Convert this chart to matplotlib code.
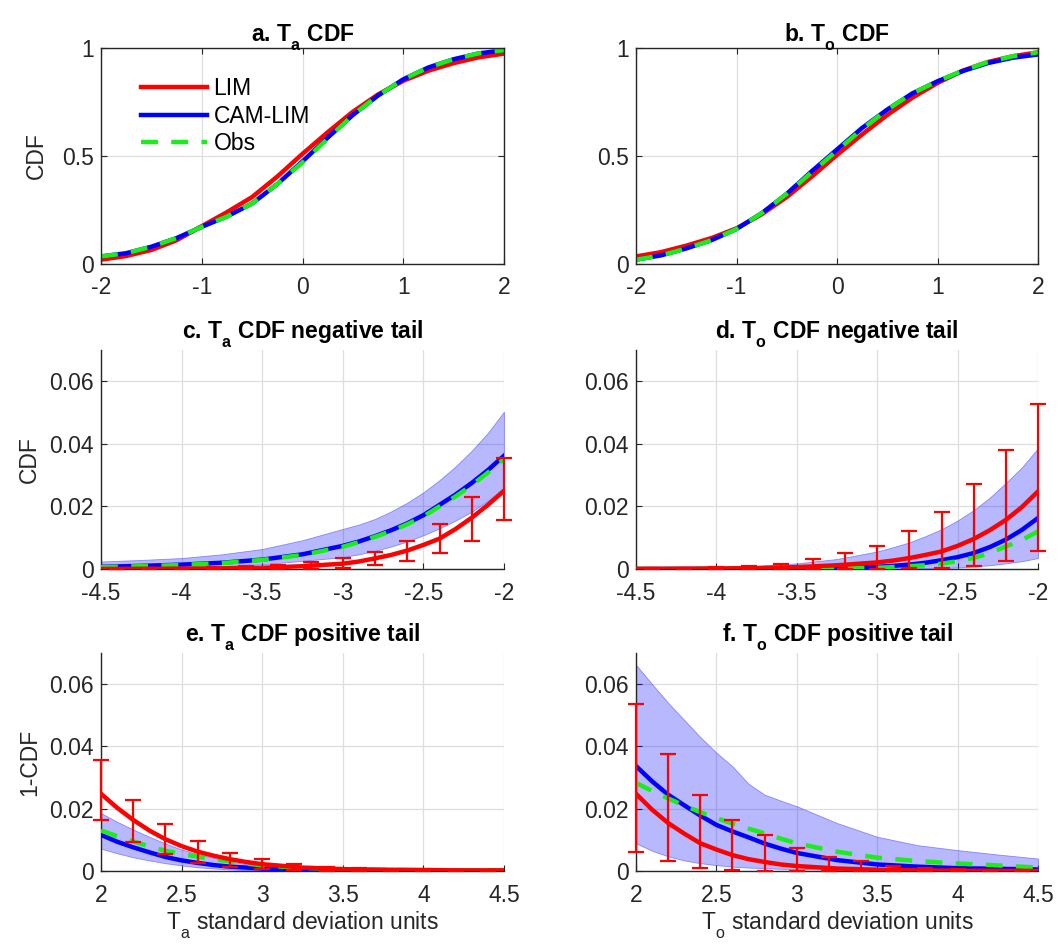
import matplotlib
matplotlib.use("Agg")
import matplotlib.pyplot as plt
import numpy as np

plt.rcParams['font.family'] = ['Liberation Sans', 'DejaVu Sans']
plt.rcParams['mathtext.fontset'] = 'custom'
plt.rcParams['mathtext.rm'] = 'Liberation Sans'
plt.rcParams['mathtext.it'] = 'Liberation Sans:italic'
plt.rcParams['mathtext.bf'] = 'Liberation Sans:bold'
plt.rcParams['axes.unicode_minus'] = False

# lower subscripts a bit (MATLAB-like)
try:
    import matplotlib._mathtext as _mt
    _mt.FontConstantsBase.sub1 = 0.75
    for _c in set(_mt._font_constant_mapping.values()):
        _c.sub1 = 0.75
except Exception:
    pass

# ---------------- data ----------------
x_cdf = [-2.0, -1.75, -1.5, -1.25, -1.0, -0.75, -0.5, -0.25, 0.0, 0.25, 0.5, 0.75, 1.0, 1.25, 1.5, 1.75, 2.0]

a_lim = [0.02, 0.037, 0.065, 0.11, 0.175, 0.24, 0.31, 0.405, 0.51, 0.61, 0.705, 0.785, 0.848, 0.895, 0.93, 0.957, 0.974]
a_cam = [0.035, 0.05, 0.08, 0.12, 0.172, 0.22, 0.28, 0.37, 0.475, 0.585, 0.69, 0.78, 0.855, 0.91, 0.948, 0.975, 0.99]
a_obs = [0.035, 0.05, 0.08, 0.12, 0.172, 0.22, 0.28, 0.37, 0.47, 0.58, 0.69, 0.78, 0.855, 0.91, 0.948, 0.975, 0.99]

b_lim = [0.035, 0.055, 0.085, 0.12, 0.165, 0.23, 0.31, 0.405, 0.505, 0.6, 0.69, 0.77, 0.838, 0.895, 0.935, 0.962, 0.98]
b_cam = [0.02, 0.04, 0.072, 0.11, 0.162, 0.235, 0.325, 0.43, 0.53, 0.63, 0.715, 0.79, 0.846, 0.893, 0.93, 0.955, 0.97]
b_obs = [0.02, 0.04, 0.072, 0.11, 0.162, 0.235, 0.325, 0.425, 0.525, 0.625, 0.715, 0.79, 0.846, 0.895, 0.935, 0.962, 0.98]

x_neg = [-4.5, -4.25, -4.0, -3.75, -3.5, -3.25, -3.0, -2.9, -2.8, -2.7, -2.6, -2.5, -2.4, -2.3, -2.2, -2.1, -2.0]
x_pos = [2.0, 2.1, 2.2, 2.3, 2.4, 2.5, 2.6, 2.7, 2.8, 2.9, 3.0, 3.25, 3.5, 3.75, 4.0, 4.25, 4.5]
x_err_neg = [-4.4, -4.2, -4.0, -3.8, -3.6, -3.4, -3.2, -3.0, -2.8, -2.6, -2.4, -2.2, -2.0]
x_err_pos = [2.0, 2.2, 2.4, 2.6, 2.8, 3.0, 3.2, 3.4, 3.6, 3.8, 4.0, 4.2, 4.4]

# c. Ta negative tail
c_lim = [0.00002, 0.00005, 0.0001, 0.0002, 0.0004, 0.0009, 0.0017, 0.0024, 0.0034, 0.0045, 0.0059, 0.0077, 0.0097, 0.0128, 0.0164, 0.0205, 0.0250]
c_cam = [0.0007, 0.001, 0.0014, 0.002, 0.003, 0.0047, 0.0074, 0.0088, 0.0105, 0.0124, 0.0146, 0.0172, 0.0205, 0.0238, 0.0275, 0.0316, 0.0362]
c_obs = [0.0006, 0.0009, 0.0013, 0.0019, 0.0029, 0.0045, 0.0071, 0.0086, 0.0103, 0.0121, 0.0143, 0.0168, 0.0200, 0.0232, 0.0268, 0.0308, 0.0352]
c_band_hi = [0.0024, 0.0029, 0.0035, 0.0047, 0.0064, 0.0092, 0.0128, 0.0142, 0.016, 0.0184, 0.0212, 0.0245, 0.0284, 0.0328, 0.0378, 0.0435, 0.0503]
c_band_lo = [0.0002, 0.0003, 0.0005, 0.0009, 0.0015, 0.0026, 0.0038, 0.0047, 0.0058, 0.0072, 0.0088, 0.0108, 0.013, 0.0155, 0.0183, 0.0218, 0.026]
c_err_mid = [0.00003, 0.00006, 0.0001, 0.0002, 0.0003, 0.0006, 0.001, 0.0017, 0.0034, 0.0059, 0.0097, 0.0164, 0.025]
c_err_hi = [0.0001, 0.0002, 0.0003, 0.0005, 0.0008, 0.0014, 0.0023, 0.0035, 0.0055, 0.009, 0.0145, 0.0231, 0.0355]
c_err_lo = [0.0, 0.0, 0.0, 0.0, 0.0, 0.0, 0.0001, 0.0003, 0.0012, 0.0026, 0.0051, 0.0091, 0.0158]

# d. To negative tail
d_lim = [0.00004, 0.00008, 0.00015, 0.0003, 0.0006, 0.0012, 0.0021, 0.0027, 0.0035, 0.0045, 0.0056, 0.0074, 0.0096, 0.0124, 0.0157, 0.0198, 0.0248]
d_cam = [0.0, 0.00001, 0.00003, 0.00007, 0.00015, 0.0003, 0.0007, 0.001, 0.0014, 0.002, 0.0028, 0.0038, 0.0051, 0.007, 0.0094, 0.0125, 0.0163]
d_obs = [0.0, 0.00001, 0.00002, 0.00005, 0.0001, 0.0002, 0.0004, 0.0006, 0.0009, 0.0012, 0.0017, 0.0025, 0.0035, 0.0051, 0.0072, 0.0093, 0.012]
d_band_hi = [0.0002, 0.0003, 0.0005, 0.001, 0.0018, 0.0032, 0.0056, 0.007, 0.0085, 0.0105, 0.0127, 0.0155, 0.0188, 0.0228, 0.0275, 0.0325, 0.0386]
d_band_lo = [0.0, 0.0, 0.0, 0.0, 0.0, 0.0, 0.00003, 0.00006, 0.0001, 0.0002, 0.0003, 0.0005, 0.0008, 0.0012, 0.0018, 0.0025, 0.0035]
d_err_mid = [0.00005, 0.0001, 0.00015, 0.0003, 0.0004, 0.0007, 0.0013, 0.0021, 0.0035, 0.0056, 0.0096, 0.0157, 0.0248]
d_err_hi = [0.0002, 0.0003, 0.0005, 0.0009, 0.0017, 0.0032, 0.0051, 0.0072, 0.012, 0.0182, 0.0272, 0.0381, 0.0528]
d_err_lo = [0.0, 0.0, 0.0, 0.0, 0.0, 0.0, 0.0, 0.0001, 0.0002, 0.0003, 0.0009, 0.0024, 0.0056]

# e. Ta positive tail
e_lim = [0.0248, 0.0203, 0.0164, 0.013, 0.0102, 0.008, 0.0062, 0.0049, 0.0038, 0.0029, 0.0022, 0.0011, 0.0006, 0.0004, 0.0003, 0.0002, 0.0002]
e_cam = [0.0116, 0.0094, 0.0076, 0.006, 0.0045, 0.0034, 0.0026, 0.0019, 0.0014, 0.0011, 0.0008, 0.0004, 0.0002, 0.0001, 0.00005, 0.00003, 0.00002]
e_obs = [0.013, 0.0112, 0.0095, 0.0079, 0.0065, 0.0055, 0.0046, 0.0038, 0.0031, 0.0024, 0.0018, 0.001, 0.0006, 0.0004, 0.0003, 0.0002, 0.0002]
e_band_hi = [0.0186, 0.0158, 0.0133, 0.011, 0.0088, 0.0069, 0.0054, 0.0042, 0.0031, 0.0022, 0.0015, 0.0007, 0.0004, 0.0002, 0.0001, 0.0001, 0.0001]
e_band_lo = [0.0072, 0.0057, 0.0044, 0.0034, 0.0025, 0.0018, 0.0012, 0.0008, 0.0005, 0.0003, 0.0002, 0.0001, 0.00005, 0.00002, 0.00001, 0.0, 0.0]
e_err_mid = [0.0248, 0.0164, 0.0102, 0.0062, 0.0038, 0.0022, 0.0012, 0.0007, 0.0005, 0.0004, 0.0003, 0.0002, 0.0002]
e_err_hi = [0.0356, 0.0229, 0.015, 0.0097, 0.0059, 0.0037, 0.0022, 0.0013, 0.0009, 0.0007, 0.0005, 0.0004, 0.0003]
e_err_lo = [0.0164, 0.0094, 0.0053, 0.0027, 0.0013, 0.0006, 0.0002, 0.0001, 0.0001, 0.0001, 0.0001, 0.0001, 0.0001]

# f. To positive tail
f_lim = [0.0248, 0.0197, 0.0154, 0.012, 0.0089, 0.0069, 0.0051, 0.0038, 0.0029, 0.0021, 0.0016, 0.0008, 0.0004, 0.0002, 0.0001, 0.00005, 0.00003]
f_cam = [0.0337, 0.0288, 0.0245, 0.0211, 0.0178, 0.0148, 0.0127, 0.0108, 0.0088, 0.0072, 0.0058, 0.0035, 0.0021, 0.0014, 0.0009, 0.0007, 0.0005]
f_obs = [0.0283, 0.0257, 0.0233, 0.021, 0.0189, 0.017, 0.0152, 0.0136, 0.0121, 0.0104, 0.0089, 0.0062, 0.0043, 0.0032, 0.0024, 0.0018, 0.0011]
f_band_hi = [0.0662, 0.06, 0.054, 0.0485, 0.043, 0.038, 0.0336, 0.028, 0.0245, 0.0226, 0.0208, 0.0154, 0.011, 0.0083, 0.0067, 0.0053, 0.004]
f_band_lo = [0.0089, 0.0065, 0.0047, 0.0034, 0.0025, 0.0019, 0.0014, 0.0011, 0.0009, 0.0007, 0.0006, 0.0004, 0.0002, 0.0002, 0.0001, 0.0001, 0.0001]
f_err_mid = [0.0248, 0.0154, 0.0089, 0.0051, 0.0029, 0.0016, 0.0009, 0.0005, 0.0003, 0.0002, 0.0001, 0.00007, 0.00005]
f_err_hi = [0.0537, 0.0377, 0.0244, 0.0164, 0.0117, 0.0075, 0.0045, 0.0032, 0.0015, 0.001, 0.0006, 0.0004, 0.0003]
f_err_lo = [0.0061, 0.0031, 0.001, 0.0002, 0.0, 0.0, 0.0, 0.0, 0.0, 0.0, 0.0, 0.0, 0.0]

series_labels = ['LIM', 'CAM-LIM', 'Obs']
titles = [r'a. T$_\mathbf{a}$ CDF', r'b. T$_\mathbf{o}$ CDF',
          r'c. T$_\mathbf{a}$ CDF negative tail', r'd. T$_\mathbf{o}$ CDF negative tail',
          r'e. T$_\mathbf{a}$ CDF positive tail', r'f. T$_\mathbf{o}$ CDF positive tail']
xlabels = [r'T$_\mathrm{a}$ standard deviation units', r'T$_\mathrm{o}$ standard deviation units']

# ---------------- style ----------------
RED = (1.0, 0.0, 0.0)
BLUE = (0.0, 0.0, 1.0)
GREEN = (0.1, 0.93, 0.1)
AXC = (0.15, 0.15, 0.15)
FS = 16.5
TFS = 16.5
LW = 3.2

fig = plt.figure(figsize=(10.57, 9.49), dpi=100)
W, H = 1057.0, 949.0

def add_ax(l, r, t, b):
    return fig.add_axes([l / W, 1 - b / H, (r - l) / W, (b - t) / H])

cols = [(101, 504), (636, 1038)]
rows = [(48, 264), (350, 569), (653, 871)]

def style(ax, box):
    ax.grid(True, color=(0.87, 0.87, 0.87), lw=0.9)
    ax.set_axisbelow(True)
    for s in ax.spines.values():
        s.set_color(AXC)
        s.set_linewidth(1.0)
    if box:
        ax.tick_params(direction='in', top=True, right=True, length=4, width=0.8,
                       colors=AXC, labelsize=FS)
    else:
        ax.spines['top'].set_visible(False)
        ax.spines['right'].set_visible(False)
        ax.tick_params(direction='in', length=4, width=0.8, colors=AXC,
                       labelsize=FS)
    ax.tick_params(axis='x', pad=9)
    ax.tick_params(axis='y', pad=5)

# top row
cdf_sets = [(a_lim, a_cam, a_obs), (b_lim, b_cam, b_obs)]
for j in range(2):
    ax = add_ax(cols[j][0], cols[j][1], rows[0][0], rows[0][1])
    lim, cam, obs = cdf_sets[j]
    ax.plot(x_cdf, lim, color=RED, lw=LW, label=series_labels[0])
    ax.plot(x_cdf, cam, color=BLUE, lw=LW, label=series_labels[1])
    ax.plot(x_cdf, obs, color=GREEN, lw=LW, ls=(0, (3.8, 3)), label=series_labels[2])
    ax.set_xlim(-2, 2)
    ax.set_ylim(0, 1)
    ax.set_xticks([-2, -1, 0, 1, 2])
    ax.set_xticklabels(['-2', '-1', '0', '1', '2'])
    ax.set_yticks([0, 0.5, 1])
    ax.set_yticklabels(['0', '0.5', '1'])
    style(ax, True)
    ax.set_title(titles[j], fontsize=TFS, fontweight='bold', pad=5)
    if j == 0:
        ax.set_ylabel('CDF', fontsize=FS, color=AXC, labelpad=10)
        ax.legend(loc='upper left', bbox_to_anchor=(0.06, 0.94), frameon=False,
                  fontsize=FS, handlelength=2.85, handletextpad=0.3, labelspacing=0.2,
                  borderpad=0.2)

tail_sets = [
    (x_neg, x_err_neg, c_lim, c_cam, c_obs, c_band_lo, c_band_hi, c_err_mid, c_err_lo, c_err_hi),
    (x_neg, x_err_neg, d_lim, d_cam, d_obs, d_band_lo, d_band_hi, d_err_mid, d_err_lo, d_err_hi),
    (x_pos, x_err_pos, e_lim, e_cam, e_obs, e_band_lo, e_band_hi, e_err_mid, e_err_lo, e_err_hi),
    (x_pos, x_err_pos, f_lim, f_cam, f_obs, f_band_lo, f_band_hi, f_err_mid, f_err_lo, f_err_hi),
]

for k, (xs, xe, lim, cam, obs, blo, bhi, emid, elo, ehi) in enumerate(tail_sets):
    r = 1 + k // 2
    j = k % 2
    ax = add_ax(cols[j][0], cols[j][1], rows[r][0], rows[r][1])
    ax.fill_between(xs, blo, bhi, facecolor=(0.0, 0.0, 1.0, 0.28),
                    edgecolor=(0.3, 0.3, 1.0, 0.6), lw=0.6, zorder=2)
    ax.plot(xs, cam, color=BLUE, lw=LW, zorder=3)
    ax.plot(xs, obs, color=GREEN, lw=LW, ls=(0, (3.8, 3)), zorder=4)
    ax.plot(xs, lim, color=RED, lw=LW, zorder=5)
    emid_a = np.array(emid)
    yerr = [emid_a - np.array(elo), np.array(ehi) - emid_a]
    eb = ax.errorbar(xe, emid, yerr=yerr, fmt='none', ecolor=RED, elinewidth=1.6,
                     capsize=6, capthick=1.6, zorder=6)
    for art in list(eb.lines[1]) + list(eb.lines[2]):
        art.set_clip_on(False)
    if k < 2:
        ax.set_xlim(-4.5, -2)
        ax.set_xticks([-4.5, -4, -3.5, -3, -2.5, -2])
        ax.set_xticklabels(['-4.5', '-4', '-3.5', '-3', '-2.5', '-2'])
    else:
        ax.set_xlim(2, 4.5)
        ax.set_xticks([2, 2.5, 3, 3.5, 4, 4.5])
        ax.set_xticklabels(['2', '2.5', '3', '3.5', '4', '4.5'])
    ax.set_ylim(0, 0.07)
    ax.set_yticks([0, 0.02, 0.04, 0.06])
    ax.set_yticklabels(['0', '0.02', '0.04', '0.06'])
    style(ax, False)
    ax.set_title(titles[2 + k], fontsize=TFS, fontweight='bold', pad=5)
    if k == 0:
        ax.set_ylabel('CDF', fontsize=FS, color=AXC, labelpad=6)
    if k == 2:
        ax.set_ylabel('1-CDF', fontsize=FS, color=AXC, labelpad=6)
    if k >= 2:
        ax.set_xlabel(xlabels[k - 2], fontsize=FS, color=AXC, labelpad=2)

fig.savefig('out.png', dpi=100)
